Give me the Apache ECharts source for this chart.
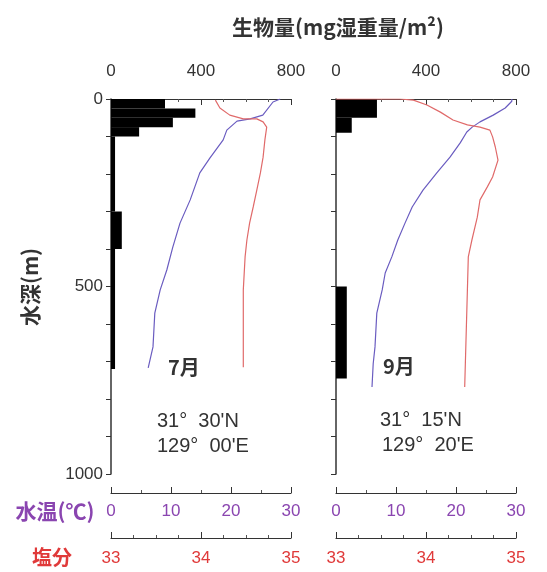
<!DOCTYPE html>
<html><head><meta charset="utf-8">
<script src="https://cdn.jsdelivr.net/npm/echarts@6/dist/echarts.min.js"></script>
<style>html,body{margin:0;padding:0;background:#fff}#c{width:547px;height:572px}</style>
</head><body><div id="c"></div>
<script>
// Biomass layers: [depthTop, depthBottom, biomass mg/m3]
const julyBiomass = [[0,25,240],[25,50,375],[50,75,275],[75,100,125],[100,300,18],[300,400,48],[400,720,18]];
const septBiomass = [[0,50,182],[50,90,70],[500,745,48]];
// Temperature profiles: [°C, depth m]
const julyTemp = [[28.2,0],[27.0,8],[25.3,43],[23.2,53],[21.0,59],[19.3,83],[18.7,109],[16.5,157],[14.8,197],[13.2,269],[11.5,331],[10.3,395],[9.3,456],[8.2,509],[7.3,571],[7.0,661],[6.2,717]];
const septTemp = [[29.3,0],[29.3,6],[28.2,24],[26.2,43],[24.0,61],[22.7,75],[21.8,88],[20.7,117],[19.0,155],[16.8,197],[14.5,243],[12.7,288],[11.5,331],[10.3,376],[9.3,421],[8.2,464],[7.7,509],[6.8,571],[6.5,661],[6.2,706],[6.0,768]];
// Salinity profiles: [psu, depth m]
const julySal = [[34.16,3],[34.21,24],[34.32,43],[34.47,53],[34.62,53],[34.69,61],[34.73,75],[34.71,109],[34.69,155],[34.66,197],[34.62,243],[34.58,288],[34.54,331],[34.51,376],[34.49,421],[34.47,509],[34.47,715]];
const septSal = [[33.0,0],[33.71,0],[33.86,3],[34.01,16],[34.16,35],[34.30,56],[34.46,69],[34.60,75],[34.71,83],[34.74,101],[34.77,128],[34.80,163],[34.74,208],[34.68,235],[34.60,269],[34.57,315],[34.51,376],[34.47,421],[34.46,509],[34.43,768]];
const biomassTicks = [0,400,800];
const tempTicks = [0,10,20,30];
const salTicks = [33,34,35];
const depthTicks = [0,500,1000];

const FONT = 'Liberation Sans';
const JP = 'Noto Sans CJK JP';
const PURPLE_LBL = '#8a45b0', PURPLE_LINE = '#6a5cc0', RED_LBL = '#e03a3a', RED_LINE = '#e06a6a';
const chart = echarts.init(document.getElementById('c'), null, {renderer:'canvas'});

const grids = [{left:111, top:99, width:180, height:375},{left:336, top:99, width:180, height:375}];
function xAxes(g){
  const base = {gridIndex:g, type:'value', splitLine:{show:false}, axisLine:{show:true, lineStyle:{color:'#333', width:1.2}}};
  return [
    Object.assign({}, base, {position:'top', offset:13, min:0, max:800, interval:400,
      axisTick:{show:true, inside:true, length:6, lineStyle:{color:'#333'}},
      minorTick:{show:true, splitNumber:4, length:3, lineStyle:{color:'#555'}},
      axisLabel:{fontFamily:FONT, fontSize:17, color:'#333', margin:6, formatter:v=>biomassTicks.includes(v)?String(v):''}}),
    Object.assign({}, base, {position:'bottom', offset:19, min:0, max:30, interval:10,
      axisTick:{show:true, inside:true, length:6, lineStyle:{color:'#333'}},
      minorTick:{show:true, splitNumber:2, length:3, lineStyle:{color:'#555'}},
      axisLabel:{fontFamily:FONT, fontSize:17, color:PURPLE_LBL, margin:10, formatter:v=>tempTicks.includes(v)?String(v):''}}),
    Object.assign({}, base, {position:'bottom', offset:64, min:33, max:35, interval:1,
      axisTick:{show:true, inside:true, length:6, lineStyle:{color:'#333'}},
      minorTick:{show:true, splitNumber:4, length:3, lineStyle:{color:'#555'}},
      axisLabel:{fontFamily:FONT, fontSize:17, color:RED_LBL, margin:12, formatter:v=>salTicks.includes(v)?String(v):''}})
  ];
}
const yAxes = [0,1].map(g=>({gridIndex:g, type:'value', inverse:true, min:0, max:1000, interval:100,
  splitLine:{show:false},
  axisLine:{show:true, lineStyle:{color:'#333', width:1.5}},
  axisTick:{show:true, inside:false, length:5, lineStyle:{color:'#333'}},
  axisLabel:{show:g===0, fontFamily:FONT, fontSize:17, color:'#333', margin:8, formatter:v=>depthTicks.includes(v)?String(v):''}
}));

function barSeries(data, xi, yi){
  return {type:'custom', xAxisIndex:xi, yAxisIndex:yi, data:data, z:2,
    renderItem:(params, api)=>{
      const p0 = api.coord([0, api.value(0)]);
      const p1 = api.coord([api.value(2), api.value(1)]);
      return {type:'rect', shape:{x:p0[0], y:p0[1], width:p1[0]-p0[0], height:p1[1]-p0[1]}, style:{fill:'#000'}};
    },
    encode:{x:2, y:[0,1]}};
}
function lineSeries(data, xi, yi, color){
  return {type:'line', xAxisIndex:xi, yAxisIndex:yi, data:data, showSymbol:false, symbol:'none', z:3,
    lineStyle:{color:color, width:1.2}, animation:false};
}

chart.setOption({
  animation:false,
  grid:grids,
  xAxis:[...xAxes(0), ...xAxes(1)],
  yAxis:yAxes,
  series:[
    barSeries(julyBiomass,0,0),
    lineSeries(julyTemp,1,0,PURPLE_LINE),
    lineSeries(julySal,2,0,RED_LINE),
    barSeries(septBiomass,3,1),
    lineSeries(septTemp,4,1,PURPLE_LINE),
    lineSeries(septSal,5,1,RED_LINE)
  ],
  graphic:[
    {type:'text', x:338, y:27, style:{text:'生物量(mg湿重量/m²)', fontFamily:JP, fontSize:21, fontWeight:'bold', fill:'#333', align:'center', verticalAlign:'middle'}},
    {type:'text', x:30, y:287, rotation:Math.PI/2, style:{text:'水深(m)', fontFamily:JP, fontSize:21, fontWeight:'bold', fill:'#333', align:'center', verticalAlign:'middle'}},
    {type:'text', x:55, y:511, style:{text:'水温(℃)', fontFamily:JP, fontSize:21, fontWeight:'bold', fill:PURPLE_LBL, align:'center', verticalAlign:'middle'}},
    {type:'text', x:52, y:557, style:{text:'塩分', fontFamily:JP, fontSize:20, fontWeight:'bold', fill:RED_LBL, align:'center', verticalAlign:'middle'}},
    {type:'text', x:168, y:367, style:{text:'7月', fontFamily:JP, fontSize:20, fontWeight:'bold', fill:'#333', verticalAlign:'middle'}},
    {type:'text', x:157, y:421, style:{text:'31°  30\'N', fontFamily:FONT, fontSize:20, fill:'#333', verticalAlign:'middle'}},
    {type:'text', x:157, y:446, style:{text:'129°  00\'E', fontFamily:FONT, fontSize:20, fill:'#333', verticalAlign:'middle'}},
    {type:'text', x:383, y:366, style:{text:'9月', fontFamily:JP, fontSize:20, fontWeight:'bold', fill:'#333', verticalAlign:'middle'}},
    {type:'text', x:380, y:420, style:{text:'31°  15\'N', fontFamily:FONT, fontSize:20, fill:'#333', verticalAlign:'middle'}},
    {type:'text', x:382, y:445, style:{text:'129°  20\'E', fontFamily:FONT, fontSize:20, fill:'#333', verticalAlign:'middle'}}
  ]
});
</script></body></html>
